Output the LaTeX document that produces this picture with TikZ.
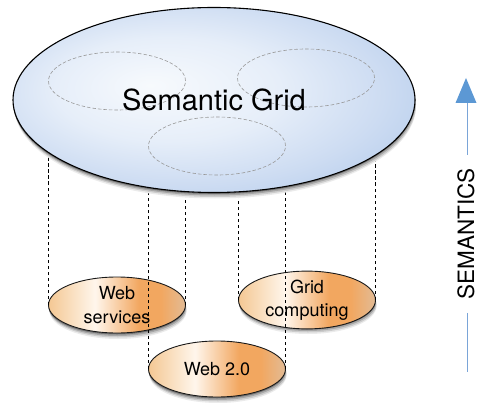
\documentclass[tikz,border=0pt]{standalone}
\usepackage{fontspec}
\setmainfont{TeX Gyre Heros}
\usetikzlibrary{shapes.geometric}

\definecolor{gridin}{HTML}{F7FAFD}
\definecolor{gridmid}{HTML}{E6EEF9}
\definecolor{gridrim}{HTML}{CDDCF2}
\definecolor{gridout}{HTML}{B5CCEC}
\definecolor{orleft}{HTML}{F4C793}
\definecolor{orlight}{HTML}{FFF6EC}
\definecolor{ordeep}{HTML}{F2A760}
\definecolor{orright}{HTML}{E2BB95}
\definecolor{headblue}{HTML}{5C98D4}
\definecolor{axisblue}{HTML}{7AA5D8}

\pgfdeclareradialshading{gridshade}{\pgfpoint{-8bp}{4bp}}{color(0bp)=(gridin); color(14bp)=(gridmid); color(25bp)=(gridrim); color(34bp)=(gridout); color(50bp)=(gridout)}
\pgfdeclarehorizontalshading{techshade}{100bp}{color(0bp)=(orleft); color(25bp)=(orleft); color(42bp)=(orlight); color(58bp)=(ordeep); color(66bp)=(ordeep); color(75bp)=(orright); color(100bp)=(orright)}

\pgfdeclarelayer{front}
\pgfsetlayers{main,front}

% stacked grey rims below an ellipse centred at (#1,#2) with radii #3 and #4
\newcommand{\rimshadow}[4]{%
  \fill[black!8]  (#1+1,#2+6)   ellipse (#3 and #4);
  \fill[black!20] (#1+1,#2+4.5) ellipse (#3 and #4);
  \fill[black!35] (#1+0.5,#2+3) ellipse (#3 and #4);
  \fill[black!55] (#1,#2+1.5)   ellipse (#3 and #4);
}

\tikzset{
  semgrid/.style={ellipse, draw=black, line width=1.1pt, shade, shading=gridshade,
    minimum width=402pt, minimum height=185pt, inner sep=0pt, outer sep=0pt},
  part/.style={ellipse, draw=black!40, line width=0.6pt, dash pattern=on 3.5pt off 2pt,
    minimum width=137pt, minimum height=58pt, inner sep=0pt},
  tech/.style={ellipse, draw=black!90, line width=0.9pt, shade, shading=techshade,
    minimum width=137pt, minimum height=56pt, inner sep=0pt, outer sep=0pt, align=center,
    font=\fontsize{18}{23.5}\selectfont},
  link/.style={draw=black, line width=0.9pt, dash pattern=on 3.5pt off 2.5pt},
  axisline/.style={draw=axisblue, line width=3pt}
}

\begin{document}
\begin{tikzpicture}[x=1pt, y=-1pt]
  \useasboundingbox (0,0) rectangle (478,403);

  % top level
  \begin{pgfonlayer}{front}
    \rimshadow{214}{100}{201pt}{92.5pt}
    \node[semgrid] (sg) at (214,100) {};
    \node[part] (p1) at (117,81) {};
    \node[part] (p2) at (306,78) {};
    \node[part] (p3) at (217,146) {};
    \node[font=\fontsize{29}{34}\selectfont] (sglabel) at (sg.center) {Semantic Grid};
  \end{pgfonlayer}

  % technologies below
  \rimshadow{117}{305}{68.5pt}{28pt}
  \rimshadow{307}{300}{68.5pt}{28pt}
  \rimshadow{217}{369}{68.5pt}{28pt}
  \node[tech] (ws) at (117,305) {Web\\services};
  \node[tech] (gc) at (307,300) {Grid\\computing};
  \node[tech] (w2) at (217,369) {Web 2.0};

  \draw[link] (ws.west) -- (ws.west |- sg.center);
  \draw[link] (ws.east) -- (ws.east |- sg.center);
  \draw[link] (gc.west) -- (gc.west |- sg.center);
  \draw[link] (gc.east) -- (gc.east |- sg.center);
  \draw[link] (w2.west) -- (w2.west |- sg.center);
  \draw[link] (w2.east) -- (w2.east |- sg.center);

  % semantics axis
  \node[rotate=90, font=\fontsize{22.5}{26}\selectfont, inner xsep=13pt, inner ysep=0pt] (sem) at (466,234) {SEMANTICS};
  \coordinate (tip) at (466,78);
  \coordinate (neck) at (466,103);
  \coordinate (foot) at (466,372);
  \fill[headblue] (tip) -- ([xshift=-10.5pt]neck) -- ([xshift=10.5pt]neck) -- cycle;
  \draw[axisline] (sem.east) -- (neck);
  \draw[axisline] (sem.west) -- (foot);
  \draw[white, line width=1.1pt] (sem.east) -- (neck) (sem.west) -- (foot);
\end{tikzpicture}
\end{document}
